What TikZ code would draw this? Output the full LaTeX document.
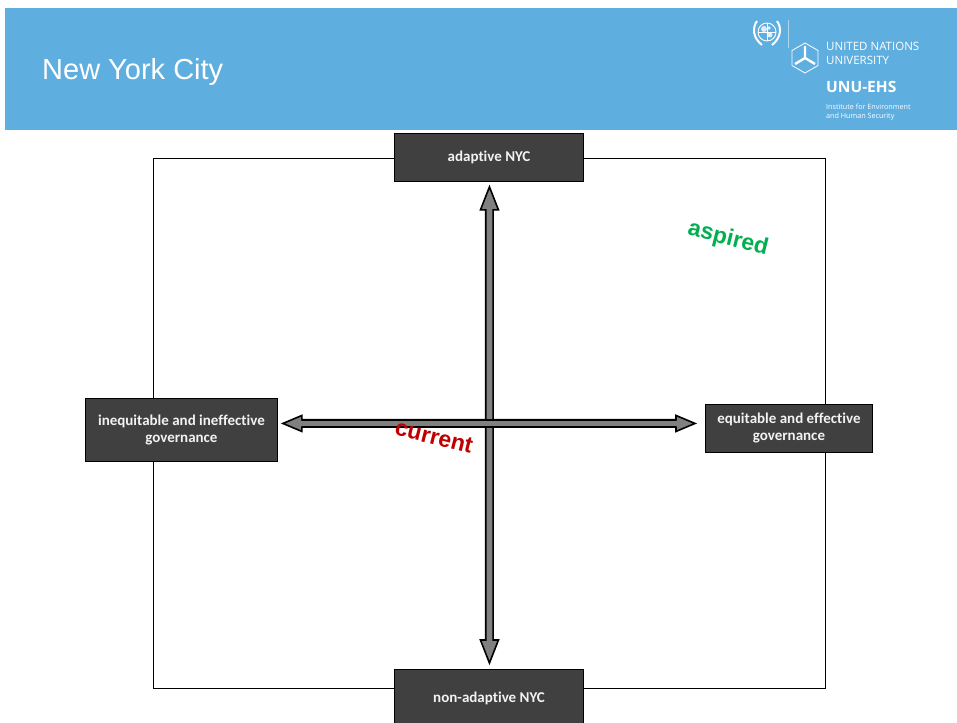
\documentclass[tikz,border=0pt]{standalone}
\usepackage{fontspec}
\setmainfont{Liberation Sans}
\newfontfamily\boxfont[Ligatures=NoCommon]{Carlito}
\newfontfamily\logofont{Open Sans}
\usetikzlibrary{calc}
\definecolor{hdrblue}{RGB}{95,174,224}
\definecolor{boxgray}{RGB}{64,64,64}
\definecolor{arrgray}{RGB}{128,128,128}
\definecolor{curred}{RGB}{192,0,0}
\definecolor{aspgreen}{RGB}{0,176,80}
\definecolor{boxtext}{RGB}{242,242,242}
\tikzset{
  quadbox/.style={draw=black, line width=0.9pt, fill=boxgray, text=boxtext,
    font=\boxfont\bfseries\fontsize{15}{17}\selectfont, align=center,
    inner sep=0pt, anchor=north west},
  arrowbody/.style={draw=black, fill=arrgray, line width=1.6pt, line join=miter},
  frameline/.style={draw=black, line width=0.9pt},
  wordlabel/.style={font=\bfseries\fontsize{23}{27}\selectfont, inner sep=0pt, rotate=-14},
  logotext/.style={text=white, anchor=base west, inner sep=0pt},
  logoline/.style={draw=white, line width=1pt}
}
\begin{document}
\begin{tikzpicture}[x=1pt,y=-1pt]
\useasboundingbox (0,0) rectangle (957,722);
\fill[white] (0,0) rectangle (957,722);
% header
\fill[hdrblue] (5,8) rectangle (957,130);
\node[logotext, font=\fontsize{29}{33}\selectfont] (title) at (42,80) {New York City};
% UN emblem
\draw[logoline, line width=0.9pt] (767,32) circle (9);
\fill[white, opacity=0.8] (764,29) circle (3) (770,35) circle (2.5) (769,28) circle (1.8);
\draw[logoline, line width=0.5pt] (767,23) -- (767,41) (758,32) -- (776,32);
\draw[logoline, line width=2pt] (757,21) .. controls (752,28) and (753,38) .. (762,45);
\draw[logoline, line width=2pt] (777,21) .. controls (782,28) and (781,38) .. (772,45);
\draw[draw=white, opacity=0.5, line width=0.6pt] (788,20) -- (788,48);
% UNU logo
\draw[logoline, line width=0.8pt] (805,43) -- (818,50.5) -- (818,65.5) -- (805,73) -- (792,65.5) -- (792,50.5) -- cycle;
\draw[logoline, line width=2.4pt] (805,58) -- (805,46) (805,58) -- (795,64) (805,58) -- (815,64);
\node[logotext, font=\logofont\fontsize{11.5}{12}\selectfont] (unu1) at (826,50.7) {UNITED NATIONS};
\node[logotext, font=\logofont\fontsize{11.5}{12}\selectfont] (unu2) at (826,65) {UNIVERSITY};
\node[logotext, font=\logofont\bfseries\fontsize{15.5}{17}\selectfont] (unu3) at (826,93) {UNU-EHS};
\node[logotext, font=\logofont\fontsize{7.2}{8}\selectfont] (unu4) at (826,110) {Institute for Environment};
\node[logotext, font=\logofont\fontsize{7.2}{8}\selectfont] (unu5) at (826,118.5) {and Human Security};
% frame
\draw[frameline] (153,158) rectangle (825,688);
% boxes
\node[quadbox, minimum width=189, minimum height=48] (top) at (394,133) {adaptive NYC};
\node[quadbox, minimum width=189, minimum height=58] (bot) at (394,669) {non-adaptive NYC};
\node[quadbox, minimum width=192, minimum height=63] (left) at (85,398) {inequitable and ineffective\\governance};
\node[quadbox, minimum width=167, minimum height=48] (right) at (705,404) {equitable and effective\\governance};
% arrow end points
\coordinate (vt) at ($(top.south)+(0.5,5)$);
\coordinate (vb) at ($(bot.north)+(0.5,-6)$);
\coordinate (hl) at ($(left.east)+(5,-6.5)$);
\coordinate (hr) at ($(right.west)+(-10,-5)$);
% horizontal arrow
\draw[arrowbody] (hl) -- ($(hl)+(19,-8)$) -- ($(hl)+(19,-3.7)$) -- ($(hr)+(-19,-3.7)$) -- ($(hr)+(-19,-8)$) -- (hr)
  -- ($(hr)+(-19,8)$) -- ($(hr)+(-19,3.7)$) -- ($(hl)+(19,3.7)$) -- ($(hl)+(19,8)$) -- cycle;
% vertical arrow
\draw[arrowbody] (vt) -- ($(vt)+(9,23)$) -- ($(vt)+(3.7,23)$) -- ($(vb)+(3.7,-23)$) -- ($(vb)+(9,-23)$) -- (vb)
  -- ($(vb)+(-9,-23)$) -- ($(vb)+(-3.7,-23)$) -- ($(vt)+(-3.7,23)$) -- ($(vt)+(-9,23)$) -- cycle;
% crossing: horizontal shaft lies over the vertical one
\fill[arrgray] ($(hl)+(19,-2.9)$) rectangle ($(hr)+(-19,2.9)$);
\draw[black, line width=1.6pt] ($(hl)+(19,-3.7)$) -- ($(hr)+(-19,-3.7)$) ($(hl)+(19,3.7)$) -- ($(hr)+(-19,3.7)$);
% labels
\node[wordlabel, text=curred] (cur) at (434,437) {current};
\node[wordlabel, text=aspgreen] (asp) at (728,239) {aspired};
\end{tikzpicture}
\end{document}
